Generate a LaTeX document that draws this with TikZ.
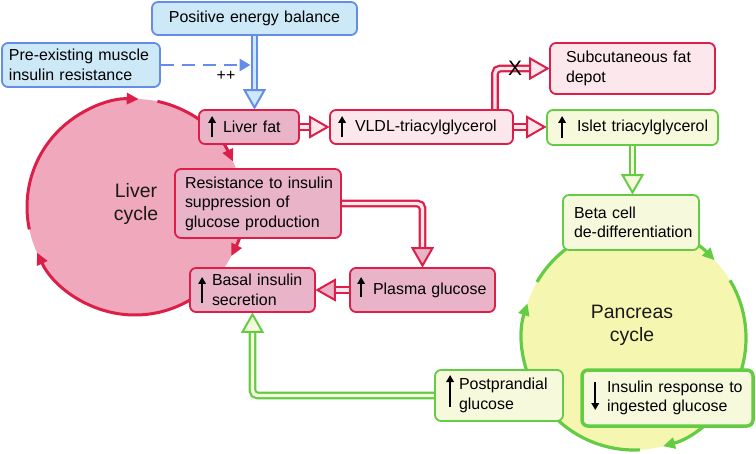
\documentclass[tikz,border=0pt]{standalone}
\usepackage{fontspec}
\setmainfont{Liberation Sans}
\usetikzlibrary{arrows.meta,calc}
\definecolor{redB}{RGB}{220,30,72}
\definecolor{pinkCirc}{RGB}{240,168,188}
\definecolor{pinkBox}{RGB}{233,180,200}
\definecolor{pinkLight}{RGB}{252,232,236}
\definecolor{blueB}{RGB}{100,140,232}
\definecolor{blueF}{RGB}{205,232,246}
\definecolor{greenB}{RGB}{100,204,68}
\definecolor{yellowCirc}{RGB}{245,247,176}
\definecolor{yellowBox}{RGB}{247,249,221}
\pgfdeclarelayer{bg}
\pgfsetlayers{bg,main}
\tikzset{
 bx/.style={draw, rounded corners=6bp, line width=1.8bp, align=left, inner ysep=0pt, font=\fontsize{16}{19.5}\selectfont, text=black},
 rbx/.style={bx, draw=redB, fill=pinkBox},
 lbx/.style={bx, draw=redB, fill=pinkLight},
 bbx/.style={bx, draw=blueB, fill=blueF},
 gbx/.style={bx, draw=greenB, fill=yellowBox},
 cyc/.style={font=\fontsize{19.5}{23}\selectfont, align=center, text=black!90},
 dblR/.style={draw=redB, line width=2.2bp, double=pinkLight, double distance=3.4bp, shorten >=16bp},
 dblG/.style={draw=greenB, line width=2.2bp, double=yellowBox, double distance=3.4bp, shorten >=16bp},
 dblB/.style={draw=blueB, line width=2.2bp, double=blueF, double distance=3.4bp, shorten >=15bp},
 ahead/.pic={\path[pic actions, line width=2bp, line join=miter] (-1.5,0) -- (-19,10) -- (-19,-10) -- cycle;},
 cycR/.style={draw=redB, line width=3bp, -{Triangle[length=12bp,width=11bp]}},
 cycG/.style={draw=greenB, line width=3.2bp, -{Triangle[length=12bp,width=11bp]}},
 blk/.style={draw=black, line width=2.2bp, -{Triangle[length=7bp,width=7.5bp]}},
}
\begin{document}
\begin{tikzpicture}[x=1bp,y=-1bp]
\useasboundingbox (0,0) rectangle (756,454);
\coordinate (lc0) at (135,207);
\coordinate (pc0) at (634,338);
% boxes
\node[bbx, align=center, minimum width=205bp, minimum height=33bp, text width=195bp, inner xsep=5bp] (peb) at (254.5,18.5) {Positive energy balance};
\node[bbx, minimum width=158bp, minimum height=44bp, text width=144bp, inner xsep=7bp] (pre) at (81,65) {Pre-existing muscle\\insulin resistance};
\node[rbx, minimum width=100bp, minimum height=34bp, text width=52bp, inner xsep=24bp] (lf) at (249,127) {\mbox{Liver fat}};
\node[lbx, minimum width=183bp, minimum height=34bp, text width=133bp, inner xsep=25bp] (vldl) at (421.5,127) {\mbox{VLDL-triacylglycerol}};
\node[lbx, minimum width=165bp, minimum height=51bp, text width=133bp, inner xsep=16bp] (subq) at (632.5,68.5) {Subcutaneous fat\\depot};
\node[gbx, minimum width=171bp, minimum height=35bp, text width=111bp, inner xsep=30bp] (islet) at (632.5,127.5) {\mbox{Islet triacylglycerol}};
\node[rbx, minimum width=166bp, minimum height=69bp, text width=146bp, inner xsep=10bp] (res) at (258,203.5) {\mbox{Resistance to insulin}\\suppression of\\glucose production};
\node[rbx, minimum width=125bp, minimum height=44bp, text width=81bp, inner xsep=22bp] (basal) at (252.5,290) {\mbox{Basal insulin}\\secretion};
\node[rbx, minimum width=145bp, minimum height=44bp, text width=99bp, inner xsep=23bp] (plasma) at (422.5,290) {\mbox{Plasma glucose}};
\node[gbx, minimum width=136bp, minimum height=55bp, text width=114bp, inner xsep=11bp] (beta) at (631,222.5) {Beta cell\\\mbox{de-differentiation}};
\node[gbx, minimum width=128bp, minimum height=51bp, text width=80bp, inner xsep=24bp] (post) at (499,395.5) {\mbox{Postprandial}\\glucose};
\node[gbx, line width=3.5bp, minimum width=171bp, minimum height=56bp, text width=121bp, inner xsep=25bp] (ins) at (667.5,398) {\mbox{Insulin response to}\\\mbox{ingested glucose}};
% labels
\node[cyc] (lc) at (136,204) {Liver\\cycle};
\node[cyc] (pc) at (632,325) {Pancreas\\cycle};
\node[font=\fontsize{16}{16}\selectfont, inner sep=0pt] (pp) at (226,76) {++};
\node[font=\fontsize{21}{21}\selectfont, inner sep=0pt] (xm) at (515,68) {X};
% small black arrows
\draw[blk] ([shift={(14,10)}]lf.west) -- ([shift={(14,-11)}]lf.west);
\draw[blk] ([shift={(13,10)}]vldl.west) -- ([shift={(13,-11)}]vldl.west);
\draw[blk] ([shift={(16,10.5)}]islet.west) -- ([shift={(16,-11.5)}]islet.west);
\draw[blk] ([shift={(13,13)}]basal.west) -- ([shift={(13,-13)}]basal.west);
\draw[blk] ([shift={(12,7)}]plasma.west) -- ([shift={(12,-13)}]plasma.west);
\draw[blk] ([shift={(16,11.5)}]post.west) -- ([shift={(16,-20.5)}]post.west);
\draw[blk] ([shift={(15,-16)}]ins.west) -- ([shift={(15,12)}]ins.west);
\begin{pgfonlayer}{bg}
\fill[pinkCirc] (lc0) circle[radius=108bp];
\fill[yellowCirc] (pc0) circle[radius=112bp];
\draw[cycR] (lc0) ++(78:108bp) arc[start angle=78,end angle=25,radius=108bp];
\draw[cycR] (lc0) ++(18:108bp) arc[start angle=18,end angle=-27,radius=108bp];
\draw[cycR] (lc0) ++(-40:108bp) arc[start angle=-40,end angle=-155,radius=108bp];
\draw[cycR] (lc0) ++(-168:108bp) arc[start angle=-168,end angle=-272,radius=108bp];
\draw[cycG] (pc0) ++(95:112bp) arc[start angle=95,end angle=44,radius=112bp];
\draw[cycG] (pc0) ++(31:112bp) arc[start angle=31,end angle=-75,radius=112bp];
\draw[cycG] (pc0) ++(-87:112bp) arc[start angle=-87,end angle=-198,radius=112bp];
\draw[draw=greenB, line width=3.2bp] (pc0) ++(150:112bp) arc[start angle=150,end angle=97,radius=112bp];
% connectors
\draw[dblB] (peb.south) -- (peb.south |- lf.north);
\pic[draw=blueB, fill=blueF, rotate=-90] at (peb.south |- lf.north) {ahead};
\draw[draw=blueB, line width=2.8bp, dash pattern=on 13bp off 8bp, -{Triangle[length=11bp,width=12bp]}] (pre.east) -- ([xshift=-4bp]peb.south |- pre.east);
\draw[dblR] (lf.east) -- (lf.east -| vldl.west);
\pic[draw=redB, fill=pinkLight] at (lf.east -| vldl.west) {ahead};
\draw[dblR, rounded corners=5bp] ([xshift=73.5bp]vldl.north) |- (subq.west);
\pic[draw=redB, fill=pinkLight] at (subq.west) {ahead};
\draw[dblR] (vldl.east) -- (vldl.east -| islet.west);
\pic[draw=redB, fill=pinkLight] at (vldl.east -| islet.west) {ahead};
\draw[dblG] (islet.south) -- (islet.south |- beta.north);
\pic[draw=greenB, fill=yellowBox, rotate=-90] at (islet.south |- beta.north) {ahead};
\draw[dblR, rounded corners=5bp] (res.east) -| (plasma.north);
\pic[draw=redB, fill=pinkBox, rotate=-90] at (plasma.north) {ahead};
\draw[dblR] (plasma.west) -- (plasma.west -| basal.east);
\pic[draw=redB, fill=pinkBox, rotate=180] at (plasma.west -| basal.east) {ahead};
\draw[dblG, rounded corners=5bp] (post.west) -| (basal.south);
\pic[draw=greenB, fill=yellowBox, rotate=90] at (basal.south) {ahead};
\end{pgfonlayer}
\end{tikzpicture}
\end{document}
